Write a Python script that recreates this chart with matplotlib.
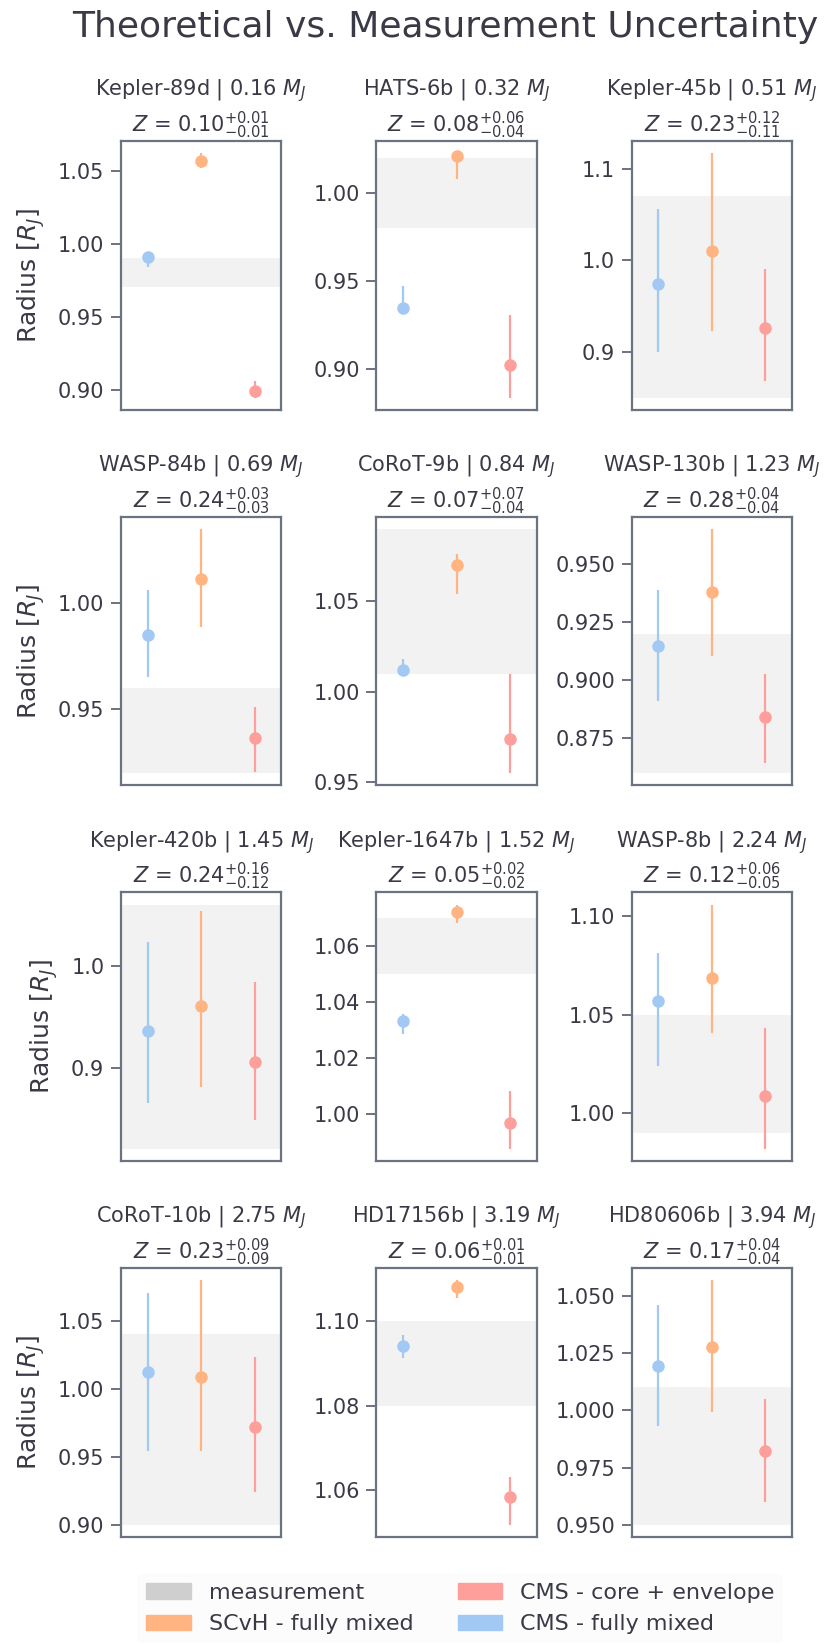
import numpy as np
import matplotlib
matplotlib.use("Agg")
import matplotlib.pyplot as plt
from matplotlib.patches import Patch
from matplotlib.ticker import MaxNLocator

# === DATA ===
planets = ["Kepler-89d", "HATS-6b", "Kepler-45b", "WASP-84b", "CoRoT-9b", "WASP-130b",
           "Kepler-420b", "Kepler-1647b", "WASP-8b", "CoRoT-10b", "HD17156b", "HD80606b"]
masses = [0.16, 0.32, 0.51, 0.69, 0.84, 1.23, 1.45, 1.52, 2.24, 2.75, 3.19, 3.94]
z_val = [0.10, 0.08, 0.23, 0.24, 0.07, 0.28, 0.24, 0.05, 0.12, 0.23, 0.06, 0.17]
z_up = [0.01, 0.06, 0.12, 0.03, 0.07, 0.04, 0.16, 0.02, 0.06, 0.09, 0.01, 0.04]
z_lo = [0.01, 0.04, 0.11, 0.03, 0.04, 0.04, 0.12, 0.02, 0.05, 0.09, 0.01, 0.04]

# measured radius and 1-sigma
meas_r = [0.98, 1.00, 0.96, 0.94, 1.05, 0.89, 0.94, 1.06, 1.02, 0.97, 1.09, 0.98]
meas_err = [0.01, 0.02, 0.11, 0.02, 0.04, 0.03, 0.12, 0.01, 0.03, 0.07, 0.01, 0.03]

# CMS - fully mixed
cms_mix = [0.991, 0.935, 0.974, 0.985, 1.012, 0.915, 0.936, 1.033, 1.057, 1.0125, 1.094, 1.0195]
cms_mix_up = [0.003, 0.012, 0.082, 0.021, 0.006, 0.024, 0.087, 0.0025, 0.024, 0.058, 0.0026, 0.0267]
cms_mix_lo = [0.007, 0.003, 0.074, 0.020, 0.003, 0.024, 0.071, 0.0045, 0.033, 0.058, 0.0027, 0.0265]

# SCvH - fully mixed
scvh = [1.0565, 1.021, 1.010, 1.011, 1.070, 0.938, 0.960, 1.072, 1.0686, 1.0083, 1.108, 1.0275]
scvh_up = [0.0055, 0.0015, 0.107, 0.0235, 0.006, 0.0272, 0.094, 0.0027, 0.037, 0.0713, 0.0015, 0.0293]
scvh_lo = [0.0045, 0.013, 0.087, 0.0225, 0.016, 0.0274, 0.079, 0.004, 0.0277, 0.054, 0.0027, 0.0284]

# CMS - core + envelope
cms_core = [0.899, 0.9026, 0.926, 0.9364, 0.974, 0.8842, 0.905, 0.9968, 1.009, 0.972, 1.0584, 0.9823]
cms_core_up = [0.007, 0.028, 0.0645, 0.0147, 0.036, 0.0184, 0.0786, 0.0115, 0.034, 0.051, 0.0048, 0.0225]
cms_core_lo = [0.0045, 0.0186, 0.0574, 0.0158, 0.019, 0.0196, 0.0564, 0.0094, 0.027, 0.048, 0.0065, 0.0224]

# === STYLE ===
text_color = "#3a3a47"
spine_color = "#6b7380"
c_meas = "#cfcfcf"
c_scvh = "#ffb482"
c_core = "#ff9f9b"
c_mix = "#a1c9f4"

plt.rcParams["text.color"] = text_color
plt.rcParams["axes.labelcolor"] = text_color
plt.rcParams["xtick.color"] = spine_color
plt.rcParams["ytick.color"] = spine_color
plt.rcParams["ytick.labelcolor"] = text_color
plt.rcParams["mathtext.fontset"] = "dejavusans"

fig, axes = plt.subplots(4, 3, figsize=(8.3, 16.47), dpi=100)
fig.subplots_adjust(left=0.1458, right=0.9542, top=0.9144, bottom=0.0668,
                    wspace=0.594, hspace=0.398)

series = [
    (cms_mix, cms_mix_lo, cms_mix_up, c_mix),
    (scvh, scvh_lo, scvh_up, c_scvh),
    (cms_core, cms_core_lo, cms_core_up, c_core),
]

for i, ax in enumerate(axes.flat):
    ax.axhspan(meas_r[i] - meas_err[i], meas_r[i] + meas_err[i],
               color=c_meas, alpha=0.25, lw=0, zorder=0)
    for x, (vals, lo, up, col) in enumerate(series):
        ax.errorbar(x, vals[i], yerr=[[lo[i]], [up[i]]], fmt="o", color=col,
                    ms=8, elinewidth=1.6, capsize=0, zorder=3)
    ax.set_xlim(-0.5, 2.5)
    ax.set_xticks([])
    ax.yaxis.set_major_locator(MaxNLocator(nbins=5, steps=[1, 2, 2.5, 5, 10]))
    ax.tick_params(axis="y", labelsize=15, length=7, width=1.4, pad=5)
    for sp in ax.spines.values():
        sp.set_color(spine_color)
        sp.set_linewidth(1.6)
    ax.set_title(f"{planets[i]} | {masses[i]:.2f} $M_J$\n"
                 f"$Z$ = {z_val[i]:.2f}$^{{+{z_up[i]:.2f}}}_{{-{z_lo[i]:.2f}}}$",
                 fontsize=15, color=text_color, pad=3, linespacing=1.25)
    if i % 3 == 0:
        ax.set_ylabel("Radius [$R_J$]", fontsize=18, labelpad=8)

fig.suptitle("Theoretical vs. Measurement Uncertainty", fontsize=26,
             x=0.536, y=0.9836, va="center", color=text_color)

handles = [
    Patch(color=c_meas, label="measurement"),
    Patch(color=c_scvh, label="SCvH - fully mixed"),
    Patch(color=c_core, label="CMS - core + envelope"),
    Patch(color=c_mix, label="CMS - fully mixed"),
]
fig.legend(handles=handles, loc="upper center", bbox_to_anchor=(0.5545, 0.051),
           ncol=2, fontsize=16, frameon=True, facecolor="#fcfcfc",
           edgecolor="none", framealpha=1.0)

plt.savefig("out.png", dpi=100)
